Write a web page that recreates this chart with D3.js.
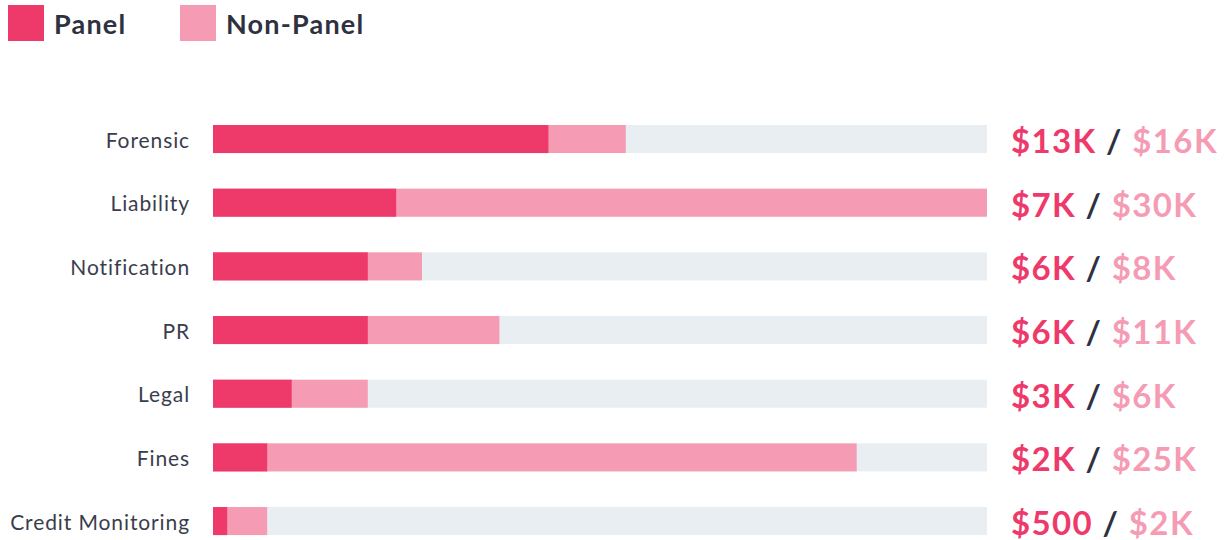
<!DOCTYPE html>
<html>
<head>
<meta charset="utf-8">
<script src="https://cdn.jsdelivr.net/npm/d3@7"></script>
<style>
  body { margin: 0; background: #fff; }
  svg { display: block; font-family: Lato, "Open Sans", sans-serif; }
</style>
</head>
<body>
<script>
// categories and values, in $K
const categories = ["Forensic", "Liability", "Notification", "PR", "Legal", "Fines", "Credit Monitoring"];
const panel = [13, 7.1, 6, 6, 3.05, 2.1, 0.55];
const nonPanel = [16, 30, 8.1, 11.1, 6, 24.95, 2.1];
const panelLabels = ["$13K", "$7K", "$6K", "$6K", "$3K", "$2K", "$500"];
const nonPanelLabels = ["$16K", "$30K", "$8K", "$11K", "$6K", "$25K", "$2K"];
const series = ["Panel", "Non-Panel"];

const width = 1229, height = 540;
const colPanel = "#ee3a6a", colNon = "#f59cb4", colTrack = "#e9eef3", colText = "#2e3140";

const svg = d3.select("body").append("svg")
  .attr("width", width).attr("height", height);

const x = d3.scaleLinear().domain([0, 30]).range([213, 987]);
const y = d3.scaleBand().domain(categories).range([107.2, 552.9]).paddingInner(0.56).paddingOuter(0.28);

// legend
const legend = svg.append("g");
const lx = [8, 180];
series.forEach((s, i) => {
  legend.append("rect").attr("x", lx[i]).attr("y", 5).attr("width", 36).attr("height", 36)
    .attr("fill", i === 0 ? colPanel : colNon);
  legend.append("text").attr("x", lx[i] + 46).attr("y", 34)
    .attr("font-size", 27).attr("font-weight", 700).attr("letter-spacing", 1.2)
    .attr("fill", colText).text(s);
});

const rows = svg.append("g").selectAll("g").data(categories).join("g")
  .attr("transform", d => `translate(0,${y(d)})`);

rows.append("rect").attr("x", x(0)).attr("width", x(30) - x(0))
  .attr("height", y.bandwidth()).attr("fill", colTrack);
rows.append("rect").attr("x", x(0)).attr("width", (d, i) => x(nonPanel[i]) - x(0))
  .attr("height", y.bandwidth()).attr("fill", colNon);
rows.append("rect").attr("x", x(0)).attr("width", (d, i) => x(panel[i]) - x(0))
  .attr("height", y.bandwidth()).attr("fill", colPanel);

rows.append("text").attr("x", 190).attr("y", y.bandwidth() / 2 + 8.5)
  .attr("text-anchor", "end").attr("font-size", 21).attr("letter-spacing", 0.9)
  .attr("fill", "#3a3d4c").text(d => d);

const val = rows.append("text").attr("x", 1011).attr("y", y.bandwidth() / 2 + 14)
  .attr("font-size", 33).attr("font-weight", 700).attr("letter-spacing", 1.4);
val.append("tspan").attr("fill", colPanel).text((d, i) => panelLabels[i]);
val.append("tspan").attr("fill", colText).text(" / ");
val.append("tspan").attr("fill", colNon).text((d, i) => nonPanelLabels[i]);
</script>
</body>
</html>
